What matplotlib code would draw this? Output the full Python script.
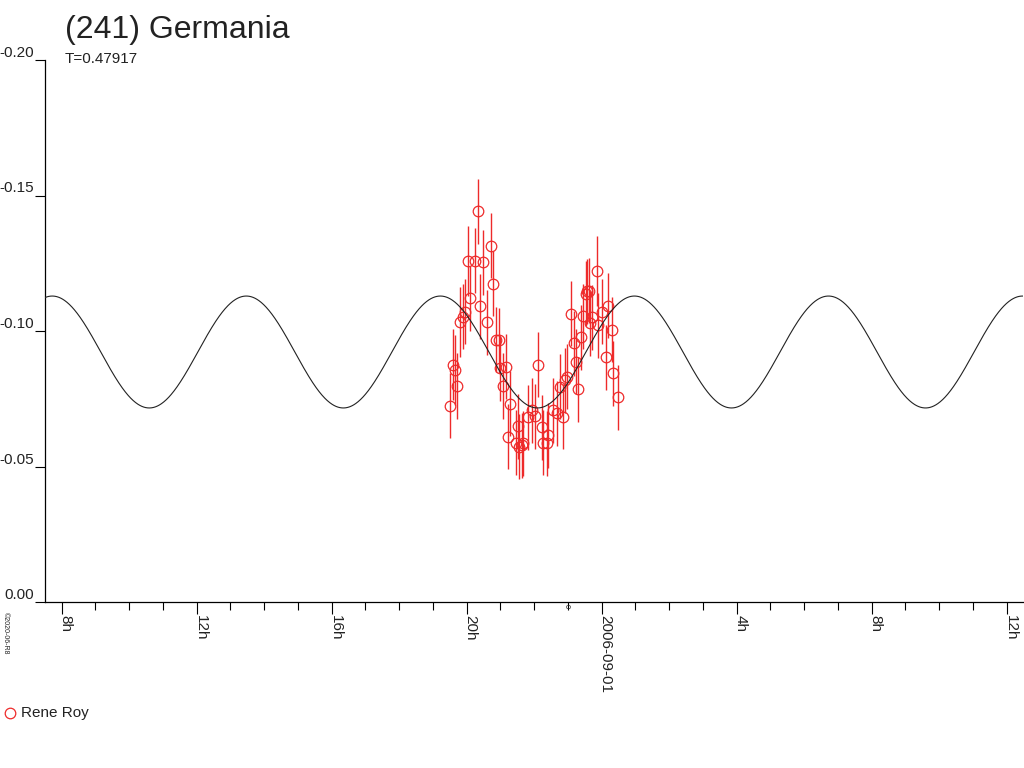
import numpy as np
import matplotlib
matplotlib.use("Agg")
import matplotlib.pyplot as plt
import matplotlib.transforms as mtransforms

plt.rcParams['font.family'] = ['Liberation Sans', 'DejaVu Sans']

# ---- data (hours relative to 2006-09-01 00h, relative magnitude) ----
hours = [-4.495, -4.415, -4.347, -4.279, -4.207, -4.110, -4.059, -3.953, -3.893, -3.754,
         -3.656, -3.600, -3.523, -3.399, -3.289, -3.221, -3.132, -3.043, -3.013, -2.844,
         -2.916, -2.717, -2.767, -2.548, -2.471, -2.450, -2.370, -2.323, -2.175, -2.074,
         -1.976, -1.879, -1.778, -1.730, -1.630, -1.582, -1.434, -1.333, -1.236, -1.138,
         -1.087, -1.037, -0.910, -0.821, -0.776, -0.693, -0.622, -0.545, -0.465, -0.427,
         -0.367, -0.347, -0.296, -0.148, -0.124, 0.000, 0.127, 0.196, 0.296, 0.344, 0.492]
mags = [-0.0724, -0.0876, -0.0856, -0.0797, -0.1034, -0.1053, -0.1071, -0.1259, -0.1120, -0.1260,
        -0.1442, -0.1092, -0.1253, -0.1033, -0.1314, -0.1175, -0.0967, -0.0965, -0.0863, -0.0868,
        -0.0797, -0.0731, -0.0610, -0.0588, -0.0649, -0.0573, -0.0579, -0.0586, -0.0682, -0.0708,
        -0.0686, -0.0876, -0.0645, -0.0588, -0.0586, -0.0616, -0.0708, -0.0697, -0.0794, -0.0683,
        -0.0819, -0.0831, -0.1063, -0.0955, -0.0887, -0.0785, -0.0977, -0.1055, -0.1137, -0.1146,
        -0.1148, -0.1028, -0.1051, -0.1221, -0.1022, -0.1071, -0.0903, -0.1093, -0.1004, -0.0844,
        -0.0755]
errs = [0.012, 0.013, 0.013, 0.012, 0.013, 0.012, 0.012, 0.013, 0.012, 0.012,
        0.012, 0.012, 0.012, 0.012, 0.012, 0.012, 0.012, 0.012, 0.012, 0.012,
        0.012, 0.012, 0.012, 0.012, 0.012, 0.012, 0.012, 0.012, 0.012, 0.012,
        0.012, 0.012, 0.012, 0.012, 0.012, 0.012, 0.012, 0.012, 0.012, 0.012,
        0.012, 0.012, 0.012, 0.012, 0.012, 0.012, 0.012, 0.012, 0.012, 0.012,
        0.012, 0.012, 0.012, 0.013, 0.012, 0.012, 0.012, 0.012, 0.012, 0.012,
        0.012]

# model fit parameters (period T = 0.47917 d, double-peaked)
period_days = 0.47917
fit_mean = -0.09225
fit_amp = 0.02065
fit_h0 = 0.97          # hour of light-curve maximum

ytick_vals = [-0.20, -0.15, -0.10, -0.05, 0.00]
ytick_labels = ["-0.20", "-0.15", "-0.10", "-0.05", "0.00"]
xmajor = [-16, -12, -8, -4, 0, 4, 8, 12]
xmajor_labels = ["8h", "12h", "16h", "20h", "2006-09-01", "4h", "8h", "12h"]
xminor = list(range(-16, 13))

title = "(241) Germania"
subtitle = "T=0.47917"
observer = "Rene Roy"

RED = '#ee2a2a'
W, H = 1024, 768

fig = plt.figure(figsize=(W / 100, H / 100), dpi=100)
ax = fig.add_axes([45 / W, (H - 602) / H, (1023 - 45) / W, (602 - 60) / H])
ax.set_xlim((45 - 601.7) / 33.75, (1023 - 601.7) / 33.75)
ax.set_ylim(0.0, -0.20)

for s in ('top', 'right'):
    ax.spines[s].set_visible(False)
for s in ('left', 'bottom'):
    ax.spines[s].set_linewidth(0.9)
    ax.spines[s].set_color('black')

# model curve
P = period_days * 24 / 2.0
xx = np.linspace(ax.get_xlim()[0], ax.get_xlim()[1], 2000)
yy = fit_mean - fit_amp * np.cos(2 * np.pi * (xx - fit_h0) / P)

ax.errorbar(hours, mags, yerr=errs, fmt='o', mfc='none', mec=RED, ecolor=RED,
            elinewidth=1.0, ms=7.6, mew=0.9, capsize=0, zorder=2)
ax.plot(xx, yy, color='#222222', lw=0.8, zorder=3)

# y ticks
ax.set_yticks(ytick_vals)
ax.set_yticklabels(ytick_labels)
ax.tick_params(axis='y', direction='out', length=7.2, width=0.8, pad=0.5,
               labelsize=11, colors='black', labelcolor='#222222')
plt.setp(ax.get_yticklabels(), va='bottom')

# x ticks
ax.set_xticks(xmajor)
ax.set_xticklabels(xmajor_labels)
ax.set_xticks(xminor, minor=True)
ax.tick_params(axis='x', which='major', direction='out', length=8.6, width=0.8,
               pad=1.0, labelsize=11, labelcolor='#222222')
ax.tick_params(axis='x', which='minor', direction='out', length=6.0, width=0.8)
plt.setp(ax.get_xticklabels(), rotation=-90, rotation_mode='anchor',
         ha='left', va='baseline')

# small zero marker below axis
trans = mtransforms.blended_transform_factory(ax.transData, ax.transAxes)
ax.text((566 - 601.7) / 33.75, -0.003, "0", transform=trans, fontsize=5.5,
        rotation=-90, ha='center', va='top', color='#222222', clip_on=False)

# titles
fig.text(65 / W, 1 - 38 / H, title, fontsize=23, color='#222222', va='baseline')
fig.text(65 / W, 1 - 63 / H, subtitle, fontsize=11, color='#222222', va='baseline')

# legend
fig.lines.append(plt.Line2D([10 / W], [1 - 713 / H], marker='o', mfc='none', mec=RED,
                            ms=7.6, mew=0.9, transform=fig.transFigure))
fig.text(21 / W, 1 - 713 / H, observer, fontsize=11, color='#222222', va='center')

# copyright tiny vertical text
fig.text(2 / W, 1 - 612 / H, "©2020-06-R8", fontsize=5, rotation=-90,
         ha='left', va='top', color='#222222')

fig.savefig("out.png", dpi=100)
